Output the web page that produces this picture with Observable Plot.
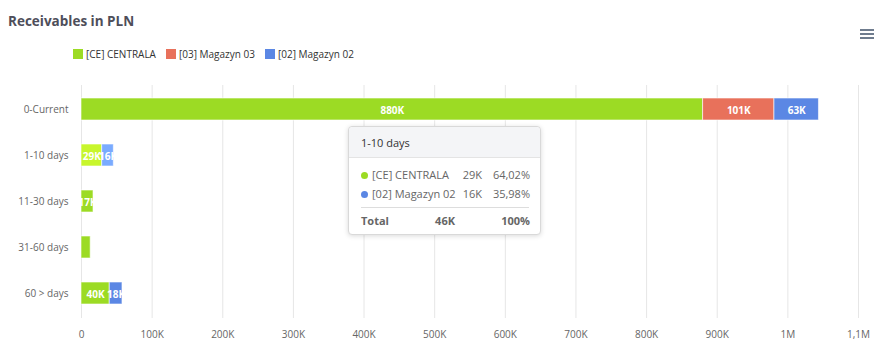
<!DOCTYPE html>
<html><head><meta charset="utf-8">
<script src="https://cdn.jsdelivr.net/npm/d3@7"></script>
<script src="https://cdn.jsdelivr.net/npm/@observablehq/plot@0.6"></script>
<style>
body{margin:0;background:#fff;font-family:"Open Sans",sans-serif;}
#wrap{position:relative;width:890px;height:351px;overflow:hidden;}
#head{position:relative;height:75px;}
#title{position:absolute;left:8px;top:12px;font-size:13.5px;font-weight:bold;color:#4e4e5a;}
#legend{position:absolute;left:73px;top:47px;font-size:10px;color:#333;display:flex;white-space:nowrap;}
.li{display:flex;align-items:center;margin-right:10px;}
.sw{width:10px;height:10px;margin-right:3px;}
#menu{position:absolute;left:860px;top:29px;width:14px;}
#menu div{height:2px;background:#6f7c8e;margin-bottom:2px;}
#tip{position:absolute;left:348px;top:126px;width:191px;height:107px;border:1px solid #d9d9d9;border-radius:4px;background:#fff;box-shadow:0 1px 5px rgba(0,0,0,0.15);font-size:11px;color:#666;}
#tiphead{height:30px;line-height:32px;background:#f4f5f7;border-bottom:1px solid #e4e4e4;padding-left:12px;color:#333;border-radius:4px 4px 0 0;}
.t{position:absolute;white-space:nowrap;line-height:14px;}
.dot{position:absolute;width:7px;height:7px;border-radius:50%;}
#div{position:absolute;left:12px;width:168px;top:80px;height:1px;background:#ddd;}
#chart svg{display:block;}
</style></head>
<body>
<div id="wrap">
  <div id="head">
    <div id="title">Receivables in PLN</div>
    <div id="legend"></div>
    <div id="menu"><div></div><div></div><div></div></div>
  </div>
  <div id="chart"></div>
  <div id="tip"></div>
</div>
<script>
const categories = ["0-Current", "1-10 days", "11-30 days", "31-60 days", "60 > days"];
const seriesNames = ["[CE] CENTRALA", "[03] Magazyn 03", "[02] Magazyn 02"];
const seriesColors = ["#9cdb24", "#e8715b", "#5b87e4"];
const hoverColors = ["#c8f62c", "#ff7d64", "#7aabff"];
const centrala = [880000, 29300, 17000, 13000, 40000];
const magazyn03 = [101000, 0, 0, 0, 0];
const magazyn02 = [63000, 16467, 0, 0, 18000];
const xTicks = [0, 100000, 200000, 300000, 400000, 500000, 600000, 700000, 800000, 900000, 1000000, 1100000];
const hovered = "1-10 days";

const valuesBySeries = [centrala, magazyn03, magazyn02];
const data = [];
categories.forEach((c, i) => {
  seriesNames.forEach((s, j) => {
    const v = valuesBySeries[j][i];
    if (v > 0) data.push({cat: c, series: s, si: j, value: v});
  });
});

const fmtK = v => Math.round(v / 1000) + "K";
const fmtAxis = v => v === 0 ? "0" : v >= 1e6 ? String(v / 1e6).replace(".", ",") + "M" : (v / 1000) + "K";

// legend
const leg = document.getElementById("legend");
seriesNames.forEach((s, j) => {
  const it = document.createElement("div");
  it.className = "li";
  it.innerHTML = `<div class="sw" style="background:${seriesColors[j]}"></div><span>${s}</span>`;
  leg.appendChild(it);
});

const chart = Plot.plot({
  width: 890,
  height: 276,
  marginTop: 10,
  marginBottom: 33,
  marginLeft: 81,
  marginRight: 32,
  style: {fontFamily: "Open Sans, sans-serif", fontSize: "10px", color: "#666", background: "transparent"},
  color: {type: "identity"},
  x: {domain: [0, 1100000], ticks: xTicks, tickFormat: fmtAxis, label: null, tickSize: 0, tickPadding: 12},
  y: {domain: categories, paddingInner: 0.52, paddingOuter: 0.26, label: null, tickSize: 0, tickPadding: 13},
  marks: [
    Plot.ruleX(xTicks, {stroke: "#e6e6e6"}),
    Plot.barX(data, Plot.stackX({
      x: "value", y: "cat", z: "series",
      fill: d => d.cat === hovered ? hoverColors[d.si] : seriesColors[d.si],
      stroke: "white", strokeWidth: 1, strokeOpacity: 0.6
    })),
    Plot.text(data, Plot.stackX({
      x: "value", y: "cat", z: "series",
      text: d => d.value >= 15000 ? fmtK(d.value) : "",
      fill: "white", fontWeight: "bold", fontSize: 10, dy: 1
    }))
  ]
});
document.getElementById("chart").appendChild(chart);

// tooltip for hovered category
const rows = data.filter(d => d.cat === hovered);
const total = d3.sum(rows, d => d.value);
const pct = v => (v / total * 100).toFixed(2).replace(".", ",") + "%";
const tip = document.getElementById("tip");
let html = `<div id="tiphead">${hovered}</div>`;
rows.forEach((r, k) => {
  const top = 41 + k * 19;
  html += `<div class="dot" style="left:12px;top:${top + 4}px;background:${seriesColors[r.si]}"></div>`;
  html += `<div class="t" style="left:23px;top:${top}px">${r.series}</div>`;
  html += `<div class="t" style="right:58px;top:${top}px">${fmtK(r.value)}</div>`;
  html += `<div class="t" style="right:10px;top:${top}px">${pct(r.value)}</div>`;
});
html += `<div id="div"></div>`;
html += `<div class="t" style="left:12px;top:87px;font-weight:bold">Total</div>`;
html += `<div class="t" style="right:85px;top:87px;font-weight:bold">${fmtK(total)}</div>`;
html += `<div class="t" style="right:10px;top:87px;font-weight:bold">100%</div>`;
tip.innerHTML = html;
</script>
</body></html>
